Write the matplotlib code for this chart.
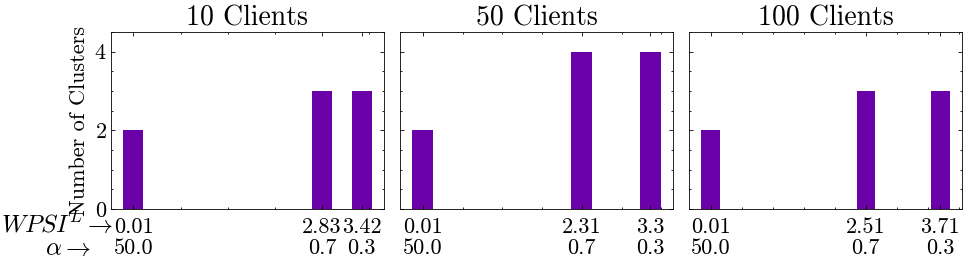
import numpy as np
import matplotlib
matplotlib.use('Agg')
import matplotlib.pyplot as plt

plt.rcParams.update({
    'font.family': 'serif',
    'font.serif': ['cmr10'],
    'mathtext.fontset': 'cm',
    'axes.formatter.use_mathtext': True,
    'axes.linewidth': 0.6,
    'xtick.direction': 'in',
    'ytick.direction': 'in',
    'xtick.top': True,
    'ytick.right': True,
    'xtick.minor.visible': True,
    'ytick.minor.visible': True,
    'xtick.major.size': 3,
    'ytick.major.size': 3,
    'xtick.minor.size': 1.5,
    'ytick.minor.size': 1.5,
    'xtick.major.width': 0.6,
    'ytick.major.width': 0.6,
    'xtick.minor.width': 0.6,
    'ytick.minor.width': 0.6,
})

titles = ['10 Clients', '50 Clients', '100 Clients']
wpsi = [[0.01, 2.83, 3.42], [0.01, 2.31, 3.3], [0.01, 2.51, 3.71]]
alpha = [50.0, 0.7, 0.3]
clusters = [[2, 3, 3], [2, 4, 4], [2, 3, 3]]

bar_color = '#6a00a8'

fig = plt.figure(figsize=(9.67, 2.61), dpi=100)
lefts = [111, 400, 689]
width_px = 273
axes = []
for i, left in enumerate(lefts):
    ax = fig.add_axes([left / 967, 52 / 261, width_px / 967, 177 / 261])
    axes.append(ax)
    ax.bar(wpsi[i], clusters[i], width=0.3, color=bar_color)
    ax.set_xticks(wpsi[i])
    ax.set_xticklabels([f'{w}\n{a}' for w, a in zip(wpsi[i], alpha)], fontsize=16,
                       linespacing=1.1)
    ax.tick_params(axis='x', which='major', pad=6)
    ax.set_ylim(0, 4.5)
    ax.set_yticks([0, 2, 4])
    ax.set_title(titles[i], fontsize=20, pad=3)
    if i == 0:
        ax.tick_params(axis='y', labelsize=16, pad=3)
        ax.set_ylabel('Number of Clusters', fontsize=16)
        ax.yaxis.set_label_coords(-0.08, 0.5)
        ax.text(0.01, -0.09, r'$WPSI^L\rightarrow$', transform=ax.transAxes,
                ha='right', va='center', fontsize=18)
        ax.text(-0.075, -0.225, r'$\alpha\rightarrow$', transform=ax.transAxes,
                ha='right', va='center', fontsize=18)
    else:
        ax.tick_params(axis='y', labelleft=False)

fig.savefig('out.png', dpi=100)
